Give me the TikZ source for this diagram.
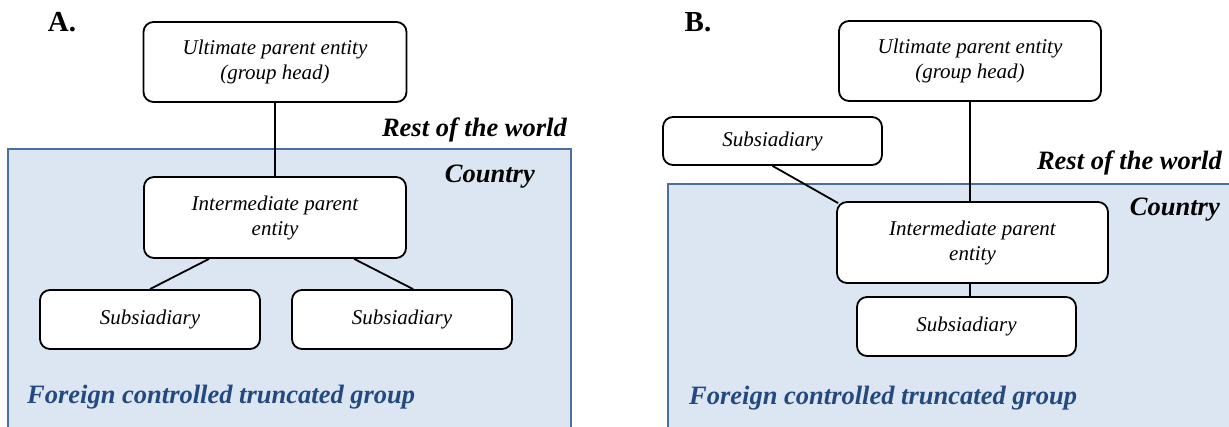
\documentclass[tikz,border=0pt]{standalone}
\usepackage{fontspec}
\setmainfont{Liberation Serif}
\usetikzlibrary{calc}
\definecolor{zonefill}{HTML}{DCE6F2}
\definecolor{zoneline}{HTML}{4A6FA0}
\definecolor{zonetext}{HTML}{24497F}
\begin{document}
\begin{tikzpicture}[x=1pt,y=-1pt,
        entity/.style={draw=black, line width=1.8pt, rounded corners=10pt, fill=white, inner sep=0pt, align=center, font=\fontsize{21}{25}\selectfont\itshape},
        zone/.style={draw=zoneline, line width=1.8pt, fill=zonefill},
        region/.style={inner sep=0pt, font=\fontsize{26.5}{30}\selectfont\bfseries\itshape},
        panel/.style={inner sep=0pt, font=\fontsize{29}{32}\selectfont\bfseries},
        link/.style={black, line width=1.8pt}]
        \clip (0,0) rectangle (1229,427);
        \fill [white] (0,0) rectangle (1229,427);

        % A.
        \draw [zone] (8,149) rectangle (571,440);
        \node[panel] (lblA) at (62,22) {A.};
        \node[entity, minimum width=263pt, minimum height=80pt] (upeA) at (275,62) {Ultimate parent entity\\(group head)};
        \node[region, anchor=east] (rowA) at (567,130) {Rest of the world};
        \node[region, anchor=east] (ctyA) at (535,177) {Country};
        \node[entity, minimum width=262pt, minimum height=81pt] (ipeA) at (275,217.5) {Intermediate parent\\entity};
        \node[entity, minimum width=220pt, minimum height=59pt] (subA1) at (150,319.5) {Subsiadiary};
        \node[entity, minimum width=220pt, minimum height=59pt] (subA2) at (402,319.5) {Subsiadiary};
        \node[region, anchor=west, text=zonetext] (fctA) at (27,397) {Foreign controlled truncated group};
        \draw [link] (upeA.south) -- (ipeA.north);
        \draw [link] ($(ipeA.south west)!0.25!(ipeA.south east)$) -- (subA1.north);
        \draw [link] ($(ipeA.south west)!0.8!(ipeA.south east)$) -- ($(subA2.north west)!0.55!(subA2.north east)$);

        % B.
        \draw [zone] (668,184) rectangle (1240,440);
        \node[panel] (lblB) at (698,22) {B.};
        \node[entity, minimum width=262pt, minimum height=80pt] (upeB) at (970,61) {Ultimate parent entity\\(group head)};
        \node[entity, minimum width=219pt, minimum height=48pt] (subB0) at (772.5,141) {Subsiadiary};
        \node[region, anchor=east] (rowB) at (1222,163) {Rest of the world};
        \node[region, anchor=east] (ctyB) at (1220,210) {Country};
        \node[entity, minimum width=271pt, minimum height=81pt] (ipeB) at (972.5,242.5) {Intermediate parent\\entity};
        \node[entity, minimum width=219pt, minimum height=59pt] (subB) at (966.5,326.5) {Subsiadiary};
        \node[region, anchor=west, text=zonetext] (fctB) at (689,398) {Foreign controlled truncated group};
        \draw [link] (upeB.south) -- (upeB.south |- ipeB.north);
        \draw [link] (subB0.south) -- ($(ipeB.north west)+(2,2)$);
        \draw [link] (ipeB.south -| upeB.south) -- (subB.north -| upeB.south);
    \end{tikzpicture}
\end{document}
